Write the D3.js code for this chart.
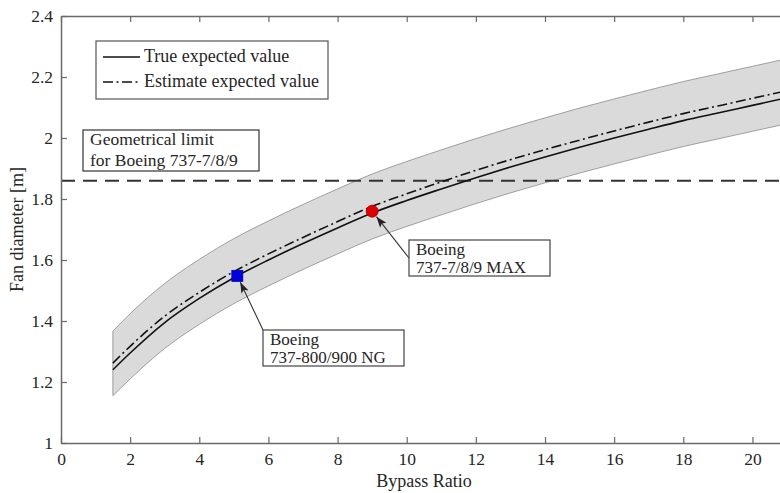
<!DOCTYPE html>
<html>
<head>
<meta charset="utf-8">
<script src="https://cdn.jsdelivr.net/npm/d3@7"></script>
<style>
  body { margin: 0; background: #fff; }
  text { font-family: "Liberation Serif", "Times New Roman", serif; fill: #262626; }
</style>
</head>
<body>
<div class="chart"></div>
<script>
// Values
var bypassRatio      = [1.5, 2, 3, 4, 5, 6, 7, 8, 9, 10, 11, 12, 13, 14, 15, 16, 17, 18, 19, 20, 21];
var trueDiameter     = [1.240, 1.295, 1.395, 1.474, 1.542, 1.600, 1.654, 1.705, 1.754, 1.795, 1.833, 1.870, 1.905, 1.938, 1.970, 2.000, 2.029, 2.057, 2.082, 2.107, 2.132];
var estimateDiameter = [1.262, 1.317, 1.416, 1.494, 1.562, 1.620, 1.674, 1.726, 1.776, 1.817, 1.856, 1.894, 1.929, 1.962, 1.993, 2.023, 2.052, 2.080, 2.105, 2.130, 2.155];
var upperBound       = [1.367, 1.424, 1.523, 1.602, 1.670, 1.728, 1.782, 1.833, 1.882, 1.923, 1.961, 1.998, 2.033, 2.066, 2.098, 2.128, 2.157, 2.185, 2.210, 2.235, 2.260];
var lowerBound       = [1.155, 1.210, 1.310, 1.389, 1.457, 1.515, 1.569, 1.620, 1.669, 1.710, 1.748, 1.785, 1.820, 1.853, 1.885, 1.915, 1.944, 1.972, 1.997, 2.022, 2.047];

var limitDiameter = 1.86;

var aircraftBpr      = [5.1, 9.0];
var aircraftDiameter = [1.548, 1.760];
var aircraftLabels   = [["Boeing", "737-800/900 NG"], ["Boeing", "737-7/8/9 MAX"]];
var aircraftColors   = ["#0000dd", "#dd0000"];

var xTicks = [0, 2, 4, 6, 8, 10, 12, 14, 16, 18, 20];
var yTicks = [1, 1.2, 1.4, 1.6, 1.8, 2, 2.2, 2.4];

var svgWidth = 780;
var svgHeight = 493;

var margin = { top: 16, left: 61, bottom: 50 };
var plotRight = 787; // axis runs to 21, page is cropped at 780
var fontSize = 18;

var svg = d3.select(".chart")
  .append("svg")
  .attr("width", svgWidth)
  .attr("height", svgHeight);

var xScale = d3.scaleLinear()
  .domain([0, 21])
  .range([margin.left, plotRight]);

var yScale = d3.scaleLinear()
  .domain([1, 2.4])
  .range([svgHeight - margin.bottom, margin.top]);

var rows = bypassRatio.map(function(b, i) {
  return { b: b, t: trueDiameter[i], e: estimateDiameter[i], hi: upperBound[i], lo: lowerBound[i] };
});

// Confidence band
// ==============================
var band = d3.area()
  .x(d => xScale(d.b))
  .y0(d => yScale(d.lo))
  .y1(d => yScale(d.hi))
  .curve(d3.curveMonotoneX);

svg.append("path")
  .datum(rows)
  .attr("d", band)
  .attr("fill", "#dadada")
  .attr("stroke", "#8c8c8c")
  .attr("stroke-width", 0.8);

// Geometrical limit
svg.append("line")
  .attr("x1", xScale(0))
  .attr("x2", plotRight)
  .attr("y1", yScale(limitDiameter))
  .attr("y2", yScale(limitDiameter))
  .attr("stroke", "#333")
  .attr("stroke-width", 2)
  .attr("stroke-dasharray", "14,8");

// Expected value curves
// ==============================
var trueLine = d3.line()
  .x(d => xScale(d.b))
  .y(d => yScale(d.t))
  .curve(d3.curveMonotoneX);

var estLine = d3.line()
  .x(d => xScale(d.b))
  .y(d => yScale(d.e))
  .curve(d3.curveMonotoneX);

svg.append("path")
  .datum(rows)
  .attr("d", estLine)
  .attr("fill", "none")
  .attr("stroke", "#111")
  .attr("stroke-width", 1.6)
  .attr("stroke-dasharray", "10,3.5,2,3.5");

svg.append("path")
  .datum(rows)
  .attr("d", trueLine)
  .attr("fill", "none")
  .attr("stroke", "#111")
  .attr("stroke-width", 1.6);

// Axes
// ==============================
var axisColor = "#6a6a6a";

var bottomAxis = d3.axisBottom(xScale).tickValues(xTicks).tickSizeInner(-6).tickSizeOuter(0).tickPadding(10);
var topAxis = d3.axisTop(xScale).tickValues(xTicks).tickSizeInner(-6).tickSizeOuter(0).tickFormat("");
var leftAxis = d3.axisLeft(yScale).tickValues(yTicks).tickSizeInner(-6).tickSizeOuter(0).tickPadding(8).tickFormat(d3.format("~g"));

function styleAxis(g) {
  g.select(".domain").attr("stroke", axisColor).attr("stroke-width", 1.5);
  g.selectAll(".tick line").attr("stroke", axisColor).attr("stroke-width", 1.2);
  g.selectAll(".tick text")
    .attr("font-family", "Liberation Serif, serif")
    .attr("font-size", 17.5)
    .attr("fill", "#333");
}

svg.append("g")
  .attr("transform", `translate(0, ${yScale(1)})`)
  .call(bottomAxis)
  .call(styleAxis);

svg.append("g")
  .attr("transform", `translate(0, ${yScale(2.4)})`)
  .call(topAxis)
  .call(styleAxis);

svg.append("g")
  .attr("transform", `translate(${xScale(0)}, 0)`)
  .call(leftAxis)
  .call(styleAxis);

// Axis labels
svg.append("text")
  .attr("x", (xScale(0) + plotRight) / 2)
  .attr("y", 487)
  .attr("text-anchor", "middle")
  .attr("font-size", fontSize)
  .text("Bypass Ratio");

svg.append("text")
  .attr("transform", `translate(23, ${(yScale(1) + yScale(2.4)) / 2}) rotate(-90)`)
  .attr("text-anchor", "middle")
  .attr("font-size", fontSize)
  .text("Fan diameter [m]");

// Legend
// ==============================
var legend = svg.append("g");
legend.append("rect")
  .attr("x", 96).attr("y", 41).attr("width", 232).attr("height", 58)
  .attr("fill", "#fff").attr("stroke", "#555").attr("stroke-width", 1.2);

legend.append("line")
  .attr("x1", 103).attr("x2", 140).attr("y1", 57).attr("y2", 57)
  .attr("stroke", "#111").attr("stroke-width", 1.6);
legend.append("line")
  .attr("x1", 103).attr("x2", 140).attr("y1", 82).attr("y2", 82)
  .attr("stroke", "#111").attr("stroke-width", 1.6)
  .attr("stroke-dasharray", "10,3.5,2,3.5");

legend.append("text").attr("x", 144).attr("y", 56).attr("dy", "0.33em").attr("font-size", fontSize).text("True expected value");
legend.append("text").attr("x", 144).attr("y", 81).attr("dy", "0.33em").attr("font-size", fontSize).text("Estimate expected value");

// Geometrical limit label
svg.append("rect")
  .attr("x", 83).attr("y", 130).attr("width", 176).attr("height", 41)
  .attr("fill", "#fff").attr("stroke", "#333").attr("stroke-width", 1.2);
svg.append("text").attr("x", 90).attr("y", 139).attr("font-size", 17.5).attr("dy", "0.33em").text("Geometrical limit");
svg.append("text").attr("x", 90).attr("y", 160).attr("font-size", 17.5).attr("dy", "0.33em").text("for Boeing 737-7/8/9");

// Aircraft markers and annotations
// ==============================
svg.append("defs").append("marker")
  .attr("id", "head")
  .attr("markerUnits", "userSpaceOnUse")
  .attr("markerWidth", 12).attr("markerHeight", 10)
  .attr("refX", 11).attr("refY", 4)
  .attr("orient", "auto")
  .append("path")
  .attr("d", "M0,0 L11,4 L0,8 L2.5,4 z")
  .attr("fill", "#222");

var boxes = [
  { x: 263, y: 330, w: 141, h: 36, from: [263, 330] },
  { x: 409, y: 240, w: 141, h: 36, from: [409, 258] }
];

aircraftBpr.forEach(function(b, i) {
  var px = xScale(b), py = yScale(aircraftDiameter[i]);
  var box = boxes[i];
  var dx = box.from[0] - px, dy = box.from[1] - py;
  var len = Math.sqrt(dx * dx + dy * dy);

  svg.append("line")
    .attr("x1", box.from[0]).attr("y1", box.from[1])
    .attr("x2", px + dx / len * 7).attr("y2", py + dy / len * 7)
    .attr("stroke", "#333").attr("stroke-width", 1.1)
    .attr("marker-end", "url(#head)");

  svg.append("rect")
    .attr("x", box.x).attr("y", box.y).attr("width", box.w).attr("height", box.h)
    .attr("fill", "#fff").attr("stroke", "#444").attr("stroke-width", 1.2);

  aircraftLabels[i].forEach(function(line, j) {
    svg.append("text")
      .attr("x", box.x + 7)
      .attr("y", box.y + 9 + j * 18.5)
      .attr("dy", "0.33em")
      .attr("font-size", 17)
      .text(line);
  });

  if (i === 0) {
    svg.append("rect")
      .attr("x", px - 5.5).attr("y", py - 5.5).attr("width", 11).attr("height", 11)
      .attr("fill", aircraftColors[i]).attr("stroke", "#0000aa").attr("stroke-width", 0.8);
  } else {
    svg.append("circle")
      .attr("cx", px).attr("cy", py).attr("r", 6)
      .attr("fill", aircraftColors[i]).attr("stroke", "#aa0000").attr("stroke-width", 0.8);
  }
});
</script>
</body>
</html>
